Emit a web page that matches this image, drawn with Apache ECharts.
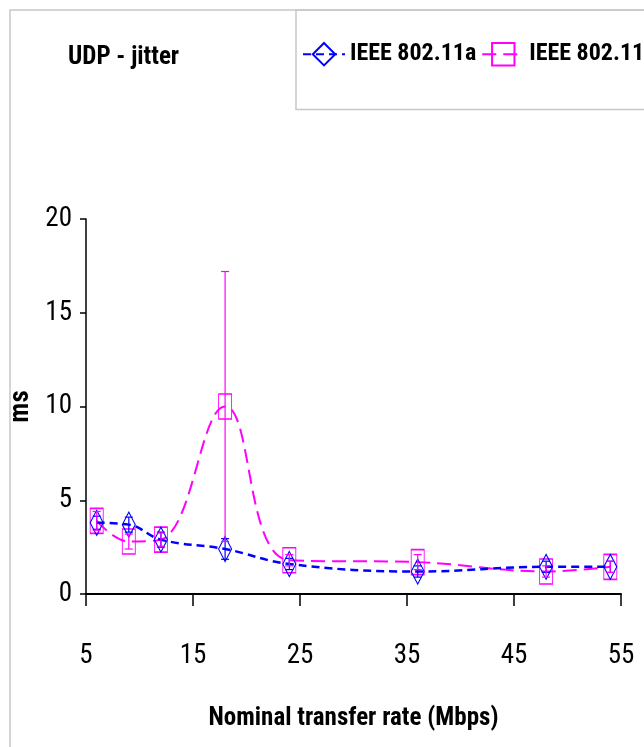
<!DOCTYPE html>
<html>
<head>
<meta charset="utf-8">
<script src="https://cdn.jsdelivr.net/npm/echarts@6/dist/echarts.min.js"></script>
<style>
  html, body { margin: 0; padding: 0; background: #fff; }
  #chart { width: 644px; height: 747px; }
</style>
</head>
<body>
<div id="chart"></div>
<script>
  // values
  const rates = [6, 9, 12, 18, 24, 36, 48, 54];
  const jitterA = [3.8, 3.7, 2.9, 2.4, 1.6, 1.2, 1.45, 1.45];
  const errA = [0.35, 0.4, 0.4, 0.55, 0.3, 0.3, 0.3, 0.3];
  const jitterG = [3.9, 2.8, 2.9, 10, 1.8, 1.7, 1.2, 1.45];
  const errG = [0.5, 0.4, 0.35, 7.2, 0.3, 0.4, 0.3, 0.3];
  const xTicks = [5, 15, 25, 35, 45, 55];
  const yTicks = [0, 5, 10, 15, 20];

  const FONT = "'Roboto Condensed', 'Liberation Sans', sans-serif";
  const BLUE = '#0000ff';
  const PINK = '#ff00ff';

  function pairs(ys) {
    return rates.map((x, i) => [x, ys[i]]);
  }

  // vertical error bars with small caps, placed through the axes
  function errorSeries(name, ys, errs, color) {
    return {
      name: name + ' err',
      type: 'custom',
      z: 5,
      silent: true,
      data: rates.map((x, i) => [x, ys[i] - errs[i], ys[i] + errs[i]]),
      renderItem: function (params, api) {
        const lo = api.coord([api.value(0), api.value(1)]);
        const hi = api.coord([api.value(0), api.value(2)]);
        const cap = 4;
        const st = { stroke: color, lineWidth: 1.2 };
        return {
          type: 'group',
          children: [
            { type: 'line', shape: { x1: lo[0], y1: lo[1], x2: hi[0], y2: hi[1] }, style: st },
            { type: 'line', shape: { x1: lo[0] - cap, y1: lo[1], x2: lo[0] + cap, y2: lo[1] }, style: st },
            { type: 'line', shape: { x1: hi[0] - cap, y1: hi[1], x2: hi[0] + cap, y2: hi[1] }, style: st }
          ]
        };
      }
    };
  }

  const chart = echarts.init(document.getElementById('chart'));
  chart.setOption({
    animation: false,
    backgroundColor: '#fff',
    graphic: [{
      type: 'rect',
      shape: { x: 10, y: 10, width: 800, height: 900 },
      style: { fill: 'none', stroke: '#c8c8c8', lineWidth: 1.5 },
      z: -1
    }],
    title: {
      text: 'UDP - jitter',
      left: 63,
      top: 40,
      textStyle: { fontFamily: FONT, fontSize: 25, fontWeight: 'bold', color: '#000' }
    },
    legend: {
      left: 296,
      top: 10,
      width: 600,
      padding: [32, 6, 43, 6],
      borderColor: '#c8c8c8',
      borderWidth: 1.5,
      itemWidth: 42,
      itemHeight: 28,
      itemGap: 5,
      data: ['IEEE 802.11a', 'IEEE 802.11g'],
      textStyle: { fontFamily: FONT, fontSize: 24, fontWeight: 'bold', color: '#000' }
    },
    grid: { left: 86, right: 23, top: 219, bottom: 153, outerBoundsMode: 'none' },
    xAxis: {
      type: 'value',
      min: 5,
      max: 55,
      interval: 10,
      name: 'Nominal transfer rate (Mbps)',
      nameLocation: 'middle',
      nameGap: 112,
      nameTextStyle: { fontFamily: FONT, fontSize: 25, fontWeight: 'bold', color: '#000' },
      axisLine: { lineStyle: { color: '#000', width: 2 } },
      axisTick: { length: 12, lineStyle: { color: '#000', width: 1.5 } },
      axisLabel: {
        margin: 49,
        fontFamily: FONT, fontSize: 27, color: '#000',
        customValues: xTicks
      },
      splitLine: { show: false }
    },
    yAxis: {
      type: 'value',
      min: 0,
      max: 20,
      interval: 5,
      name: 'ms',
      nameLocation: 'middle',
      nameGap: 51,
      nameMoveOverlap: false,
      nameTextStyle: { fontFamily: FONT, fontSize: 27, fontWeight: 'bold', color: '#000' },
      axisLine: { show: true, lineStyle: { color: '#000', width: 1.5 } },
      axisTick: { show: true, length: 6, lineStyle: { color: '#000', width: 1.5 } },
      axisLabel: {
        margin: 14,
        fontFamily: FONT, fontSize: 27, color: '#000',
        customValues: yTicks
      },
      splitLine: { show: false }
    },
    series: [
      {
        name: 'IEEE 802.11a',
        type: 'line',
        smooth: 0.4,
        data: pairs(jitterA),
        symbol: 'diamond',
        symbolSize: [13, 25],
        z: 3,
        lineStyle: { color: BLUE, width: 2.5, type: [8, 5] },
        itemStyle: { color: 'rgba(255,255,255,0)', borderColor: BLUE, borderWidth: 1.2 }
      },
      {
        name: 'IEEE 802.11g',
        type: 'line',
        smooth: 0.4,
        data: pairs(jitterG),
        symbol: 'rect',
        symbolSize: [13, 25],
        z: 2,
        lineStyle: { color: PINK, width: 2, type: [14, 7] },
        itemStyle: { color: 'rgba(255,255,255,0)', borderColor: PINK, borderWidth: 1.2 }
      },
      errorSeries('IEEE 802.11a', jitterA, errA, BLUE),
      errorSeries('IEEE 802.11g', jitterG, errG, PINK)
    ]
  });
</script>
</body>
</html>
